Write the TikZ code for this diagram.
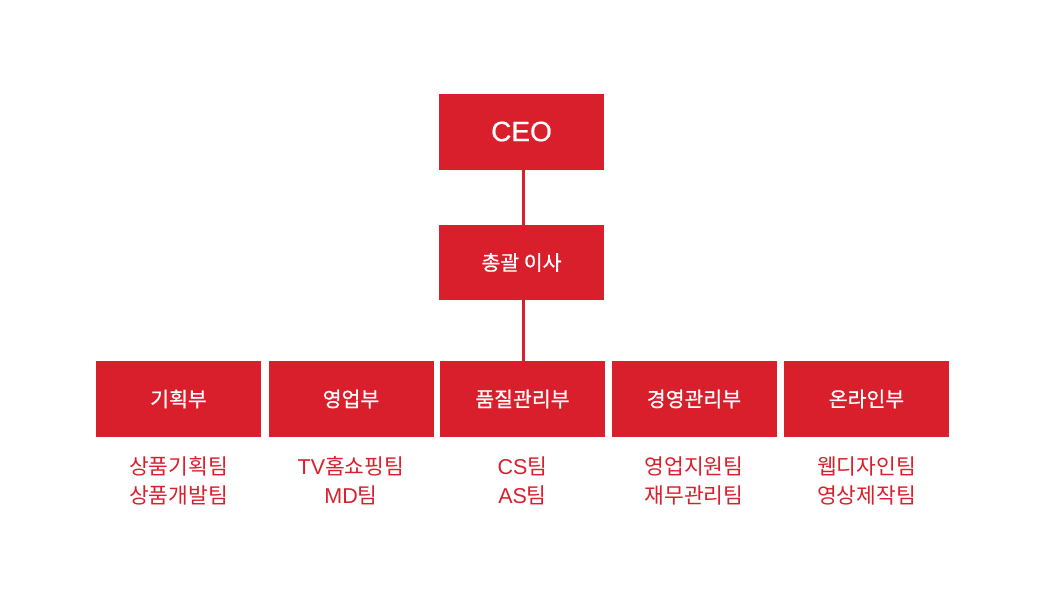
\documentclass[tikz,border=0pt]{standalone}
\usepackage{fontspec}
\setmainfont{Noto Sans CJK KR}
\newfontfamily\latinfont{Liberation Sans}
\newfontfamily\krmed{Noto Sans CJK KR}[UprightFeatures={FakeBold=0.7}]
\newfontfamily\latinmed{Liberation Sans}[UprightFeatures={FakeBold=0.6}]
\definecolor{orgred}{HTML}{DA1F2C}
\begin{document}
\begin{tikzpicture}[x=1pt,y=-1pt,
  box/.style={fill=orgred,draw=none,minimum width=165pt,minimum height=76pt,inner sep=0pt,text=white,font=\fontsize{20.5}{24}\selectfont\krmed},
  team/.style={text=orgred,align=center,font=\fontsize{21.5}{29}\selectfont,inner sep=0pt},
  link/.style={draw=orgred,line width=3pt}]
\useasboundingbox (0,0) rectangle (1045,589);
\node[box,font=\fontsize{28}{30}\selectfont\latinmed] (ceo) at (521.5,131.5) {CEO};
\node[box,minimum height=75pt] (dir) at (521.5,262.5) {총괄 이사};
\node[box] (d1) at (178.5,399) {기획부};
\node[box] (d2) at (351,399) {영업부};
\node[box] (d3) at (522.5,399) {품질관리부};
\node[box] (d4) at (694,399) {경영관리부};
\node[box] (d5) at (866.5,399) {온라인부};
\draw[link] (ceo.south -| 523,0) -- (dir.north -| 523,0);
\draw[link] (dir.south -| 523,0) -- (d3.north -| 523,0);
\node[team] (t1) at (178.5,481) {상품기획팀\\상품개발팀};
\node[team] (t2) at (351,481) {{\latinfont TV}홈쇼핑팀\\{\latinfont MD}팀};
\node[team] (t3) at (522.5,481) {{\latinfont CS}팀\\{\latinfont AS}팀};
\node[team] (t4) at (694,481) {영업지원팀\\재무관리팀};
\node[team] (t5) at (866.5,481) {웹디자인팀\\영상제작팀};
\end{tikzpicture}
\end{document}
